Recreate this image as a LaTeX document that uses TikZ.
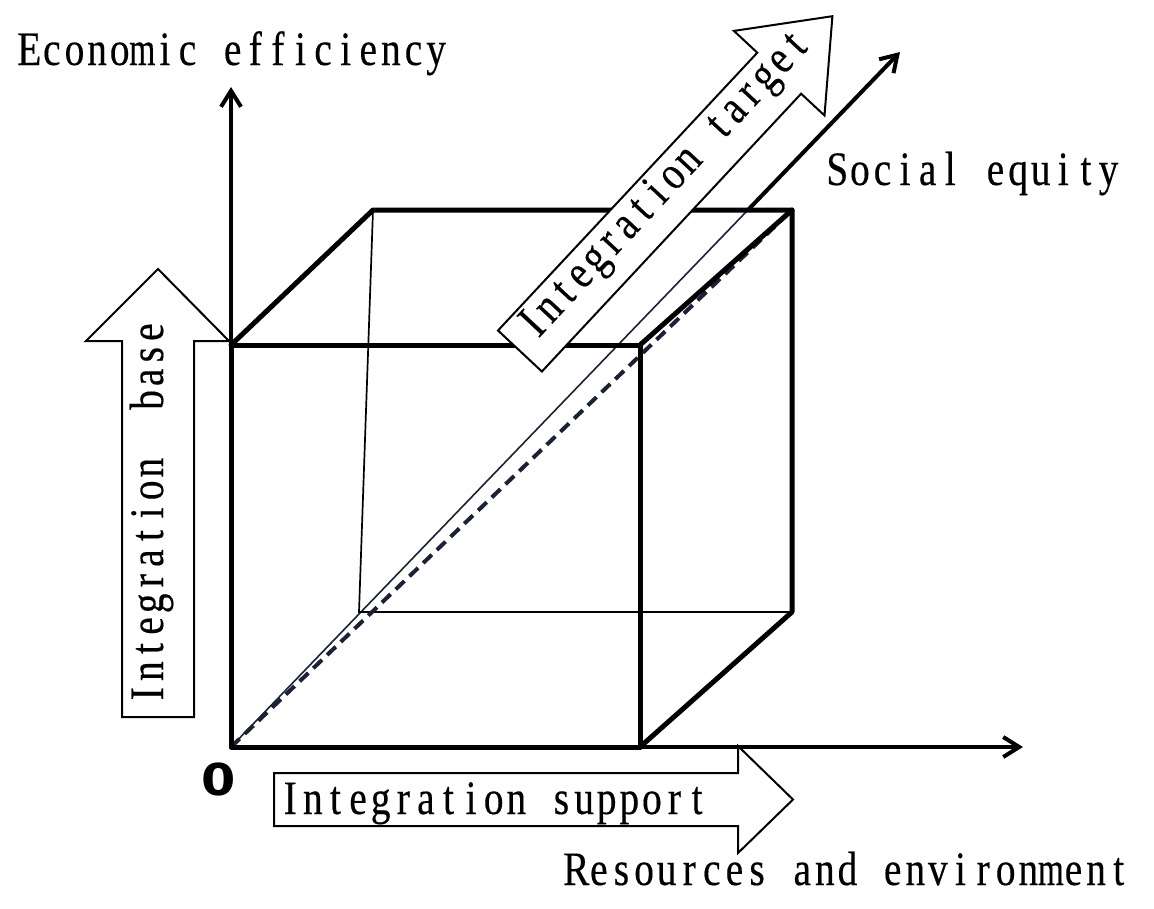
\documentclass[tikz,border=0pt]{standalone}
\usepackage{fontspec}
\usepackage{graphicx}
\usetikzlibrary{arrows.meta,calc}
\newfontfamily\cnserif{Liberation Serif}[FakeStretch=0.82,FakeBold=0.3]
\newfontfamily\zerofont{DejaVu Sans}[FakeStretch=1.12]
\newlength\monow
\setlength\monow{22.6pt}
\ExplSyntaxOn
\cs_new:Npn \my_monochar:n #1
  {
    \makebox[\monow][c]
      { \str_case:nnF {#1} { {m}{\scalebox{0.85}[1]{m}} {w}{\scalebox{0.85}[1]{w}} } {#1} }
  }
\NewDocumentCommand\monotext{m}{ \str_map_function:nN {#1} \my_monochar:n }
\ExplSyntaxOff
\definecolor{navy}{RGB}{28,33,52}
\tikzset{
  lab/.style={inner sep=0pt, outer sep=0pt, font=\cnserif\fontsize{48}{52}\selectfont},
  edge/.style={line width=5pt, line cap=round, line join=round},
  backthin/.style={line width=1.7pt},
  axis/.style={line width=4pt, -{Straight Barb[length=16pt,width=20pt]}},
  blockarrow/.style={draw, fill=white, line width=2pt, line join=miter},
}
\begin{document}
\begin{tikzpicture}[x=1pt, y=-1pt]
\useasboundingbox (0,0) rectangle (1154,908);
% cube corners
\coordinate (A) at (231,747);
\coordinate (B) at (640,747);
\coordinate (C) at (640,345);
\coordinate (D) at (231,345);
\coordinate (E) at (373,210);
\coordinate (F) at (792,210);
\coordinate (G) at (792,612);
\coordinate (H) at (359,612);
% axis end points
\coordinate (Ytip) at (231,87);
\coordinate (Xtip) at (1023,747);
\coordinate (Ztip) at (900,52);
\coordinate (Zmid) at ($(A)!0.774!(Ztip)$);
% axes
\draw[axis] (A) -- (Ytip);
\draw[axis] (A) -- (Xtip);
\draw[navy, line width=1.6pt] (A) -- (Zmid);
\draw[axis] (Zmid) -- (Ztip);
% back thin edges
\draw[backthin] (E) -- (H) -- (G);
% dashed diagonal
\draw[navy, line width=4pt, dash pattern=on 12pt off 7pt] (A) -- (F);
% cube thick edges
\draw[edge] (A) -- (B) -- (C) -- (D) -- cycle;
\draw[edge] (D) -- (E) -- (F) -- (G) -- (B);
\draw[edge] (C) -- (F);
% block arrows
\draw[blockarrow] (122,717) -- (122,341) -- (86,341) -- (158,269) -- (229,341) -- (194,341) -- (194,717) -- cycle;
\draw[blockarrow] (274,773) -- (738,773) -- (738,746) -- (793,799.5) -- (738,853) -- (738,826) -- (274,826) -- cycle;
\draw[blockarrow] (498,330.5) -- (757.3,52.7) -- (733.9,30.9) -- (832.4,16.2) -- (824.5,115.5) -- (801.1,93.7) -- (541.9,371.5) -- cycle;
% labels
\node[lab, anchor=base west] (econ) at (18,65) {\monotext{Economic efficiency}};
\node[lab, anchor=base west] (soc) at (826,185) {\monotext{Social equity}};
\node[lab, anchor=base west] (res) at (565,885) {\monotext{Resources and environment}};
\node[lab, anchor=base west] (sup) at (279,814) {\monotext{Integration support}};
\node[lab, anchor=base west, rotate=90] (base) at (163,705) {\monotext{Integration}\hspace*{2\monow}\monotext{base}};
\node[lab, anchor=base west, rotate=47] (tgt) at (535.3,342) {\monotext{Integration target}};
\node[inner sep=0pt, font=\zerofont\bfseries\fontsize{44}{48}\selectfont] (zero) at (219,779) {0};
\end{tikzpicture}
\end{document}
